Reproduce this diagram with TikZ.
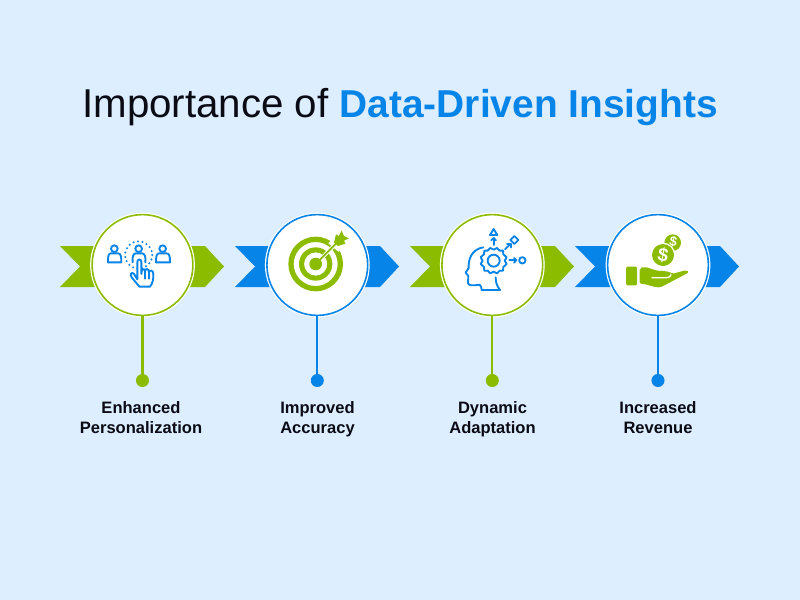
\documentclass[tikz,border=0pt]{standalone}
\usepackage{fontspec}
\setmainfont{Liberation Sans}
\definecolor{bgc}{HTML}{DCEEFF}
\definecolor{grn}{HTML}{8CBC00}
\definecolor{blu}{HTML}{0784E8}
\definecolor{ink}{HTML}{0B0B14}
\tikzset{
  disc/.style={circle,draw=#1,line width=1.2pt,fill=white,minimum size=75.6pt,inner sep=0pt,
    preaction={draw=white,line width=3pt}},
  dotn/.style={circle,fill=#1,minimum size=9.8pt,inner sep=0pt},
  stem/.style={line width=1.6pt},
  lab/.style={align=center,anchor=base,inner sep=0pt,text=ink,font=\fontsize{12.4}{15}\selectfont\bfseries},
  ttl/.style={anchor=base,inner sep=0pt,text=ink,font=\fontsize{30.2}{34}\selectfont},
  ico/.style={line width=1.4pt,line join=round,line cap=round,draw=blu},
}
\newcommand{\chevron}[2]{% left x, colour
  \fill[#2] (#1,246) -- (#1+20,266.5) -- (#1,287) -- (#1+145,287) -- (#1+164,266.5) -- (#1+145,246) -- cycle;}
\begin{document}
\begin{tikzpicture}[x=.75pt,y=-.75pt]
\useasboundingbox (0,0) rectangle (800,600);
\fill[bgc] (0,0) rectangle (800,600);

\node[ttl] (title) at (400,117) {Importance of {\fontsize{29.15}{34}\selectfont\bfseries\color{blu}Data-Driven Insights}};

\chevron{60}{grn}
\chevron{235}{blu}
\chevron{410}{grn}
\chevron{575}{blu}

\node[disc=grn] (c1) at (142.5,265) {};
\node[disc=blu] (c2) at (317.3,265) {};
\node[disc=grn] (c3) at (492.3,265) {};
\node[disc=blu] (c4) at (658,265) {};

\node[dotn=grn] (d1) at (142.5,380.5) {};
\node[dotn=blu] (d2) at (317.3,380.5) {};
\node[dotn=grn] (d3) at (492.3,380.5) {};
\node[dotn=blu] (d4) at (658,380.5) {};

\draw[stem,grn] (c1) -- (d1);
\draw[stem,blu] (c2) -- (d2);
\draw[stem,grn] (c3) -- (d3);
\draw[stem,blu] (c4) -- (d4);

\node[lab] (l1) at (141,433) {Enhanced\\Personalization};
\node[lab] (l2) at (317.5,433) {Improved\\Accuracy};
\node[lab] (l3) at (492.5,433) {Dynamic\\Adaptation};
\node[lab] (l4) at (658,433) {Increased\\Revenue};

% icon 1: people and tapping hand (coordinates of a 3x crop)
\begin{scope}[shift={(50,200)},x=.25pt,y=-.25pt]
  \draw[ico] (193,146) circle (10);
  \draw[ico] (183,160) -- (204,160) .. controls (212,160) and (214,168) .. (214,187) -- (174,187) .. controls (174,168) and (175,160) .. (183,160) -- cycle;
  \draw[ico] (338,146) circle (10);
  \draw[ico] (328,160) -- (349,160) .. controls (358,160) and (360,168) .. (360,187) -- (318,187) .. controls (318,168) and (320,160) .. (328,160) -- cycle;
  \draw[ico] (266,146) circle (10);
  \draw[ico] (248,187) .. controls (246,170) and (250,160) .. (258,160) -- (276,160) .. controls (284,160) and (288,170) .. (286,187);
  \draw[draw=blu,line width=1.7pt,line cap=round,dash pattern=on 0pt off 3.4pt] (266,165) circle (41);
  \draw[ico,fill=white] (274,222) -- (274,186) .. controls (274,176) and (262,176) .. (262,186) -- (262,238)
     -- (252,222) .. controls (246,214) and (238,222) .. (245,232) -- (268,260) -- (300,260)
     .. controls (308,250) and (310,240) .. (310,222) .. controls (310,210) and (298,208) .. (297,218)
     .. controls (297,204) and (286,204) .. (285,214) .. controls (285,204) and (274,204) .. (274,222) -- cycle;
  \draw[ico] (285,214) -- (285,236);
  \draw[ico] (297,218) -- (297,236);
\end{scope}

% icon 2: target with dart
\begin{scope}[shift={(230,200)},x=.25pt,y=-.25pt]
  \fill[grn,even odd rule] (257,192) circle (82) (257,192) circle (66) (257,192) circle (50) (257,192) circle (35);
  \draw[white,line width=2.8pt] (257,192) -- (322,127);
  \fill[white] (295,130) -- (325,100) -- (358,125) -- (325,155) -- cycle;
  \fill[grn] (312,127) -- (318,103) -- (326,108) -- (335,92) -- (342,108) -- (357,115) -- (342,122) -- (346,131) -- (324,138) -- cycle;
  \draw[grn,line width=1.4pt] (257,192) -- (322,127);
  \fill[grn] (257,192) circle (19);
\end{scope}

% icon 3: head, gear and options
\begin{scope}[shift={(405,200)},x=.25pt,y=-.25pt]
  \draw[ico] (235,142) .. controls (208,146) and (192,168) .. (191,195) -- (191,204) -- (182,218) -- (190,228) -- (189,248)
     .. controls (190,256) and (198,258) .. (224,254) .. controls (228,258) and (230,264) .. (230,270) -- (285,270)
     .. controls (276,258) and (272,248) .. (272,232);
  \draw[ico,fill=white] plot[smooth cycle,tension=.45] coordinates {
     (256,144) (266,149) (276,144) (284,152) (294,152) (295,163) (305,172) (299,182) (305,192)
     (295,201) (294,212) (284,212) (276,220) (266,215) (256,220) (248,212) (238,212) (237,201)
     (227,192) (233,182) (227,172) (237,163) (238,152) (248,152)};
  \draw[ico] (266,182) circle (18);
  \draw[ico] (266,135) -- (266,114);
  \draw[ico] (259,121) -- (266,114) -- (273,121);
  \draw[ico] (266,87) -- (277,105) -- (255,105) -- cycle;
  \draw[ico] (300,148) -- (317,131);
  \draw[ico] (306,131) -- (317,131) -- (317,142);
  \draw[ico] (328,108) -- (340,120) -- (328,132) -- (316,120) -- cycle;
  \draw[ico] (313,181) -- (334,181);
  \draw[ico] (327,174) -- (334,181) -- (327,188);
  \draw[ico] (352,181) circle (9.5);
\end{scope}

% icon 4: hand with coins
\begin{scope}[shift={(570,200)},x=.25pt,y=-.25pt]
  \fill[grn] (308,128) circle (25);
  \fill[white] (279,165) circle (37);
  \fill[grn] (279,165) circle (33);
  \node[inner sep=0pt,text=white,rotate=-10,font=\fontsize{14}{15}\selectfont\bfseries] (s1) at (279,165) {\$};
  \node[inner sep=0pt,text=white,rotate=-10,font=\fontsize{10}{11}\selectfont\bfseries] (s2) at (310,126) {\$};
  \fill[grn,rounded corners=1pt] (168,200) rectangle (201,256);
  \fill[grn,rounded corners=1.5pt] (209,204) .. controls (225,200) and (238,204) .. (250,209)
     .. controls (270,214) and (295,212) .. (305,222) -- (350,210) -- (357,217) -- (272,262)
     .. controls (250,262) and (230,252) .. (209,251) -- cycle;
  \draw[white,line width=1pt,line cap=round] (246,233) -- (288,233) .. controls (298,233) and (303,228) .. (303,224);
\end{scope}
\end{tikzpicture}
\end{document}
